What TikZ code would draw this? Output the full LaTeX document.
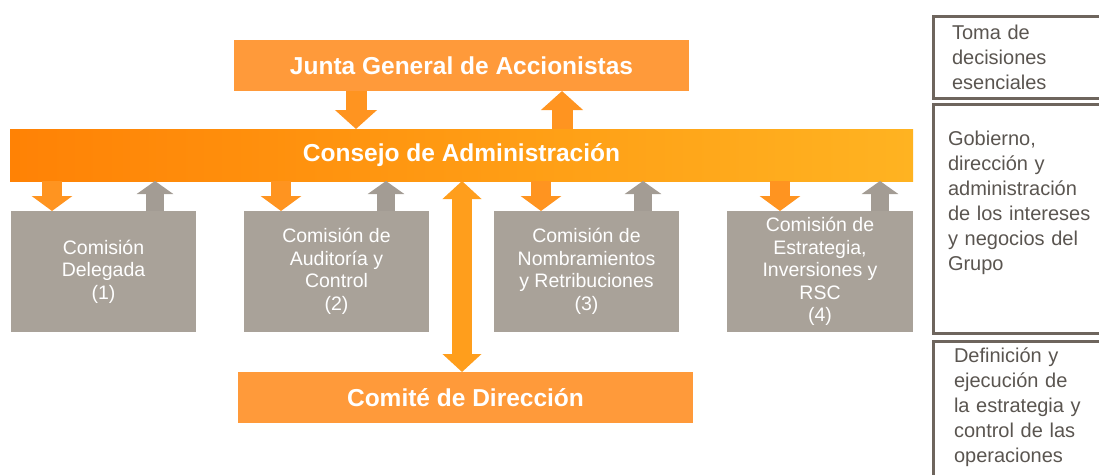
\documentclass[tikz,border=0pt]{standalone}
\usepackage{fontspec}
\setmainfont{Liberation Sans}
\usetikzlibrary{arrows.meta}
\definecolor{jorange}{HTML}{FF9A3A}
\definecolor{cleft}{HTML}{FF8205}
\definecolor{cright}{HTML}{FFB321}
\definecolor{boxgray}{HTML}{A9A299}
\definecolor{arrgray}{HTML}{A39C94}
\definecolor{arrorange}{HTML}{FF9420}
\definecolor{bigorange}{HTML}{FF9E1C}
\definecolor{notebrd}{HTML}{6E655D}
\definecolor{notetxt}{HTML}{5A5550}
\tikzset{
  titlebox/.style={inner sep=0pt, outer sep=0pt, text=white,
    font=\fontsize{24.5}{28}\selectfont\bfseries},
  orangebox/.style={titlebox, fill=jorange, minimum width=455pt, minimum height=51pt},
  gbox/.style={fill=boxgray, inner sep=0pt, outer sep=0pt, minimum width=185pt,
    minimum height=121pt, text=white, align=center,
    font=\fontsize{19.5}{22.5}\selectfont},
  notebox/.style={draw=notebrd, line width=3pt, inner sep=0pt, outer sep=0pt,
    anchor=north west},
  notetext/.style={text=notetxt, align=left, text width=150pt, inner sep=0pt,
    font=\fontsize{20}{25}\selectfont},
  oarrow/.style={draw=arrorange, line width=20pt, -{Triangle[width=40pt,length=15pt]}},
  garrow/.style={draw=arrgray, line width=18pt, -{Triangle[width=36pt,length=13pt]}},
  jarrow/.style={draw=arrorange, line width=21pt, -{Triangle[width=41pt,length=19pt]}},
  bigarrow/.style={draw=bigorange, line width=20pt,
    {Triangle[width=38pt,length=18pt]}-{Triangle[width=38pt,length=18pt]}},
}
\begin{document}
\begin{tikzpicture}[x=1pt,y=-1pt]
\useasboundingbox (0,0) rectangle (1099,474);
\clip (0,0) rectangle (1099,474);

% main nodes
\node[orangebox] (junta) at (461.5,65.5) {Junta General de Accionistas};
\node[titlebox, left color=cleft, right color=cright, minimum width=903pt,
      minimum height=52pt] (consejo) at (461.5,155) {Consejo de Administración};
\node[gbox] (c1) at (103.5,271.5) {Comisión\\Delegada\\(1)};
\node[gbox] (c2) at (336.5,271.5) {Comisión de\\Auditoría y\\Control\\(2)};
\node[gbox] (c3) at (586.5,271.5) {Comisión de\\Nombramientos\\y Retribuciones\\(3)};
\node[gbox, minimum width=186pt] (c4) at (820,271.5) {Comisión de\\Estrategia,\\Inversiones y\\RSC\\(4)};
\node[orangebox] (comite) at (465.5,397.5) {Comité de Dirección};

% connectors
\draw[jarrow] (356,0 |- junta.south) -- (356,0 |- consejo.north);
\draw[jarrow] (562,0 |- consejo.north) -- (562,0 |- junta.south);

\draw[oarrow] (52,0 |- consejo.south) -- (52,0 |- c1.north);
\draw[garrow] (155,0 |- c1.north) -- (155,0 |- consejo.south);
\draw[oarrow] (281,0 |- consejo.south) -- (281,0 |- c2.north);
\draw[garrow] (386,0 |- c2.north) -- (386,0 |- consejo.south);
\draw[oarrow] (541,0 |- consejo.south) -- (541,0 |- c3.north);
\draw[garrow] (643,0 |- c3.north) -- (643,0 |- consejo.south);
\draw[oarrow] (780,0 |- consejo.south) -- (780,0 |- c4.north);
\draw[garrow] (880,0 |- c4.north) -- (880,0 |- consejo.south);

\draw[bigarrow] (462,0 |- consejo.south) -- (462,0 |- comite.north);

% right-hand notes
\node[notebox, minimum width=180pt, minimum height=82pt] (na) at (933.5,16.5) {};
\node[notebox, minimum width=180pt, minimum height=229pt] (nb) at (933.5,104.5) {};
\node[notebox, minimum width=180pt, minimum height=160pt] (nc) at (933.5,341.5) {};
\node[notetext] (ta) at (1027,57) {Toma de\\decisiones\\esenciales};
\node[notetext] (tb) at (1023,203) {Gobierno,\\dirección y\\administración\\de los intereses\\y negocios del\\Grupo};
\node[notetext] (tc) at (1029,407) {Definición y\\ejecución de\\la estrategia y\\control de las\\operaciones};
\end{tikzpicture}
\end{document}
